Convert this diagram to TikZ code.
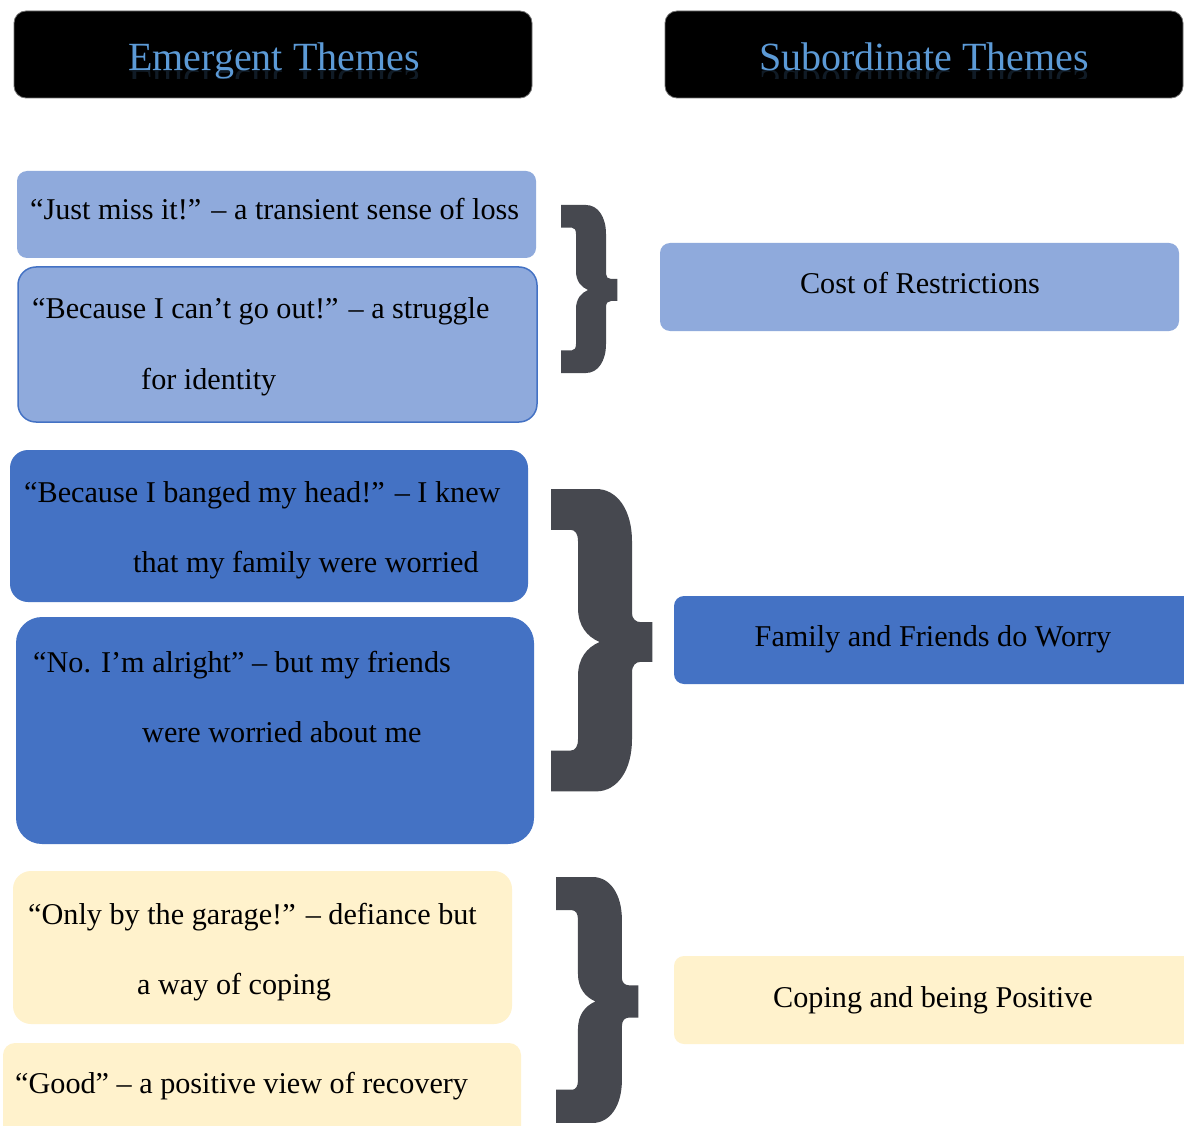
\documentclass[tikz,border=0pt]{standalone}
\usepackage{fontspec}
\setmainfont{Liberation Serif}
\begin{document}
\definecolor{lightblue}{HTML}{8FAADC}
\definecolor{midblue}{HTML}{4472C4}
\definecolor{paleyellow}{HTML}{FFF2CC}
\definecolor{bracegray}{HTML}{46484F}
\definecolor{headblue}{HTML}{5C9AD6}
\tikzset{
  panel/.style={anchor=north west, inner sep=0pt, outer sep=0pt},
  header/.style={panel, fill=black, draw=black!55, line width=0.8pt,
    rounded corners=12pt, minimum width=518pt, minimum height=87pt},
  headtext/.style={anchor=base, inner sep=0pt, text=headblue,
    font=\fontsize{40}{48}\selectfont},
  quote/.style={anchor=base west, inner sep=0pt, font=\fontsize{30.2}{36}\selectfont},
  theme/.style={anchor=base, inner sep=0pt, font=\fontsize{30.2}{36}\selectfont},
  pics/curly/.style={code={
    \fill[bracegray] (0,0) -- (25,0) .. controls (37,0) and (45,12) .. (45,29)
      -- (45,69) .. controls (45,72) and (47,74) .. (50,74) -- (56.3,74)
      -- (56.3,96) -- (50,96) .. controls (47,96) and (45,98) .. (45,102)
      -- (45,139) .. controls (45,156) and (37,168) .. (25,168) -- (0,168)
      -- (0,145.3) -- (11,145.3) .. controls (13.5,145.3) and (15,143) .. (15,139)
      -- (15,104) .. controls (15,94) and (20,88) .. (27,85)
      .. controls (20,82) and (15,76) .. (15,66)
      -- (15,29) .. controls (15,25) and (13.5,22.7) .. (11,22.7)
      -- (0,22.7) -- cycle;
  }}
}
\begin{tikzpicture}[x=1pt,y=-1pt]
\clip (0,0) rectangle (1184,1126);
\fill[white] (0,0) rectangle (1184,1126);

% column headers
\node[header] (hl) at (14,11) {};
\node[header] (hr) at (665,11) {};
\node[headtext] (hlt) at (274,71) {Emergent Themes};
\node[headtext] (hrt) at (924,71) {Subordinate Themes};
% faint mirrored copy of the header titles
\begin{scope}
  \clip (100,71) rectangle (450,79);
  \node[headtext, transform shape, yscale=-1, opacity=0.18] (hltr) at (274,71) {Emergent Themes};
\end{scope}
\begin{scope}
  \clip (740,71) rectangle (1110,79);
  \node[headtext, transform shape, yscale=-1, opacity=0.18] (hrtr) at (924,71) {Subordinate Themes};
\end{scope}

% emergent theme boxes
\node[panel, fill=lightblue, rounded corners=10pt, minimum width=519pt, minimum height=87pt] (e1) at (17,171) {};
\node[panel, fill=lightblue, draw=midblue, line width=1.5pt, rounded corners=18pt, minimum width=519pt, minimum height=155pt] (e2) at (18,267) {};
\node[panel, fill=midblue, rounded corners=18pt, minimum width=518pt, minimum height=152pt] (e3) at (10,450) {};
\node[panel, fill=midblue, rounded corners=26pt, minimum width=518pt, minimum height=227pt] (e4) at (16,617) {};
\node[panel, fill=paleyellow, rounded corners=18pt, minimum width=499pt, minimum height=153pt] (e5) at (13,871) {};
\node[panel, fill=paleyellow, rounded corners=12pt, minimum width=518pt, minimum height=100pt] (e6) at (3,1043) {};

\node[quote] (e1a) at (30,220) {“Just miss it!” – a transient sense of loss};
\node[quote] (e2a) at (32,319) {“Because I can’t go out!” – a struggle};
\node[quote] (e2b) at (141,389) {for identity};
\node[quote] (e3a) at (24,502) {“Because I banged my head!” – I knew};
\node[quote] (e3b) at (133,572) {that my family were worried};
\node[quote] (e4a) at (33,672) {“No. I’m alright” – but my friends};
\node[quote] (e4b) at (142,742) {were worried about me};
\node[quote] (e5a) at (28,924) {“Only by the garage!” – defiance but};
\node[quote] (e5b) at (137,994) {a way of coping};
\node[quote] (e6a) at (15,1093) {“Good” – a positive view of recovery};

% grouping braces
\pic (b1) at (561,205) {curly};
\pic[scale=1.80] (b2) at (551,489) {curly};
\pic[scale=1.464] (b3) at (556,877) {curly};

% subordinate theme boxes
\node[panel, fill=lightblue, rounded corners=10pt, minimum width=519pt, minimum height=88pt] (s1) at (660,243) {};
\node[panel, fill=midblue, rounded corners=10pt, minimum width=530pt, minimum height=88pt] (s2) at (674,596) {};
\node[panel, fill=paleyellow, rounded corners=10pt, minimum width=530pt, minimum height=88pt] (s3) at (674,956) {};

\node[theme] (s1t) at (920,294) {Cost of Restrictions};
\node[theme] (s2t) at (933,646) {Family and Friends do Worry};
\node[theme] (s3t) at (933,1007) {Coping and being Positive};
\end{tikzpicture}
\end{document}
